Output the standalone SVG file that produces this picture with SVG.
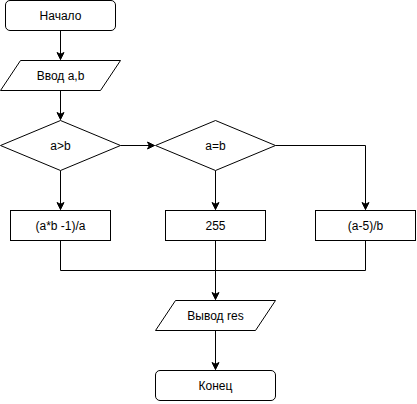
<svg xmlns="http://www.w3.org/2000/svg" width="417" height="404" viewBox="0 0 417 404">
<style>
.s{fill:#fff;stroke:#000;stroke-width:1}
.c{fill:none;stroke:#000;stroke-width:1}
text{font-family:"Liberation Sans",Arial,sans-serif;font-size:12px;fill:#000;text-anchor:middle;dominant-baseline:central}
</style>
<defs>
<marker id="a" markerWidth="10" markerHeight="10" refX="8" refY="5" orient="auto" markerUnits="userSpaceOnUse">
<path d="M1,1.5 L8,5 L1,8.5 L2.8,5 Z" fill="#000" stroke="#000" stroke-width="1"/>
</marker>
</defs>
<rect width="417" height="404" fill="#fff"/>
<g id="connectors">
<path class="c" d="M60.5,30.5 V59.5" marker-end="url(#a)"/>
<path class="c" d="M60.5,90.5 V119.5" marker-end="url(#a)"/>
<path class="c" d="M120.5,145.5 H154.5" marker-end="url(#a)"/>
<path class="c" d="M60.5,170.5 V209.5" marker-end="url(#a)"/>
<path class="c" d="M215.5,170.5 V209.5" marker-end="url(#a)"/>
<path class="c" d="M275.5,145.5 H365.5 V209.5" marker-end="url(#a)"/>
<path class="c" d="M60.5,240.5 V270.5 H365.5 V240.5"/>
<path class="c" d="M215.5,240.5 V299.5" marker-end="url(#a)"/>
<path class="c" d="M215.5,330.5 V369.5" marker-end="url(#a)"/>
</g>
<g id="start"><rect class="s" x="5.5" y="0.5" width="110" height="30" rx="4.5"/><text x="60.5" y="15.5">Начало</text></g>
<g id="input"><path class="s" d="M20.5,60.5 H120.5 L100.5,90.5 H0.5 Z"/><text x="60.5" y="75.5">Ввод a,b</text></g>
<g id="cond1"><path class="s" d="M60.5,120.5 L120.5,145.5 L60.5,170.5 L0.5,145.5 Z"/><text x="60.5" y="145.5">a&gt;b</text></g>
<g id="cond2"><path class="s" d="M215.5,120.5 L275.5,145.5 L215.5,170.5 L155.5,145.5 Z"/><text x="215.5" y="145.5">a=b</text></g>
<g id="box1"><rect class="s" x="10.5" y="210.5" width="100" height="30"/><text x="60.5" y="225.5">(a*b -1)/a</text></g>
<g id="box2"><rect class="s" x="165.5" y="210.5" width="100" height="30"/><text x="215.5" y="225.5">255</text></g>
<g id="box3"><rect class="s" x="315.5" y="210.5" width="100" height="30"/><text x="365.5" y="225.5">(a-5)/b</text></g>
<g id="output"><path class="s" d="M175.5,300.5 H275.5 L255.5,330.5 H155.5 Z"/><text x="215.5" y="315.5">Вывод res</text></g>
<g id="end"><rect class="s" x="155.5" y="370.5" width="120" height="30" rx="4.5"/><text x="215.5" y="385.5">Конец</text></g>
</svg>
